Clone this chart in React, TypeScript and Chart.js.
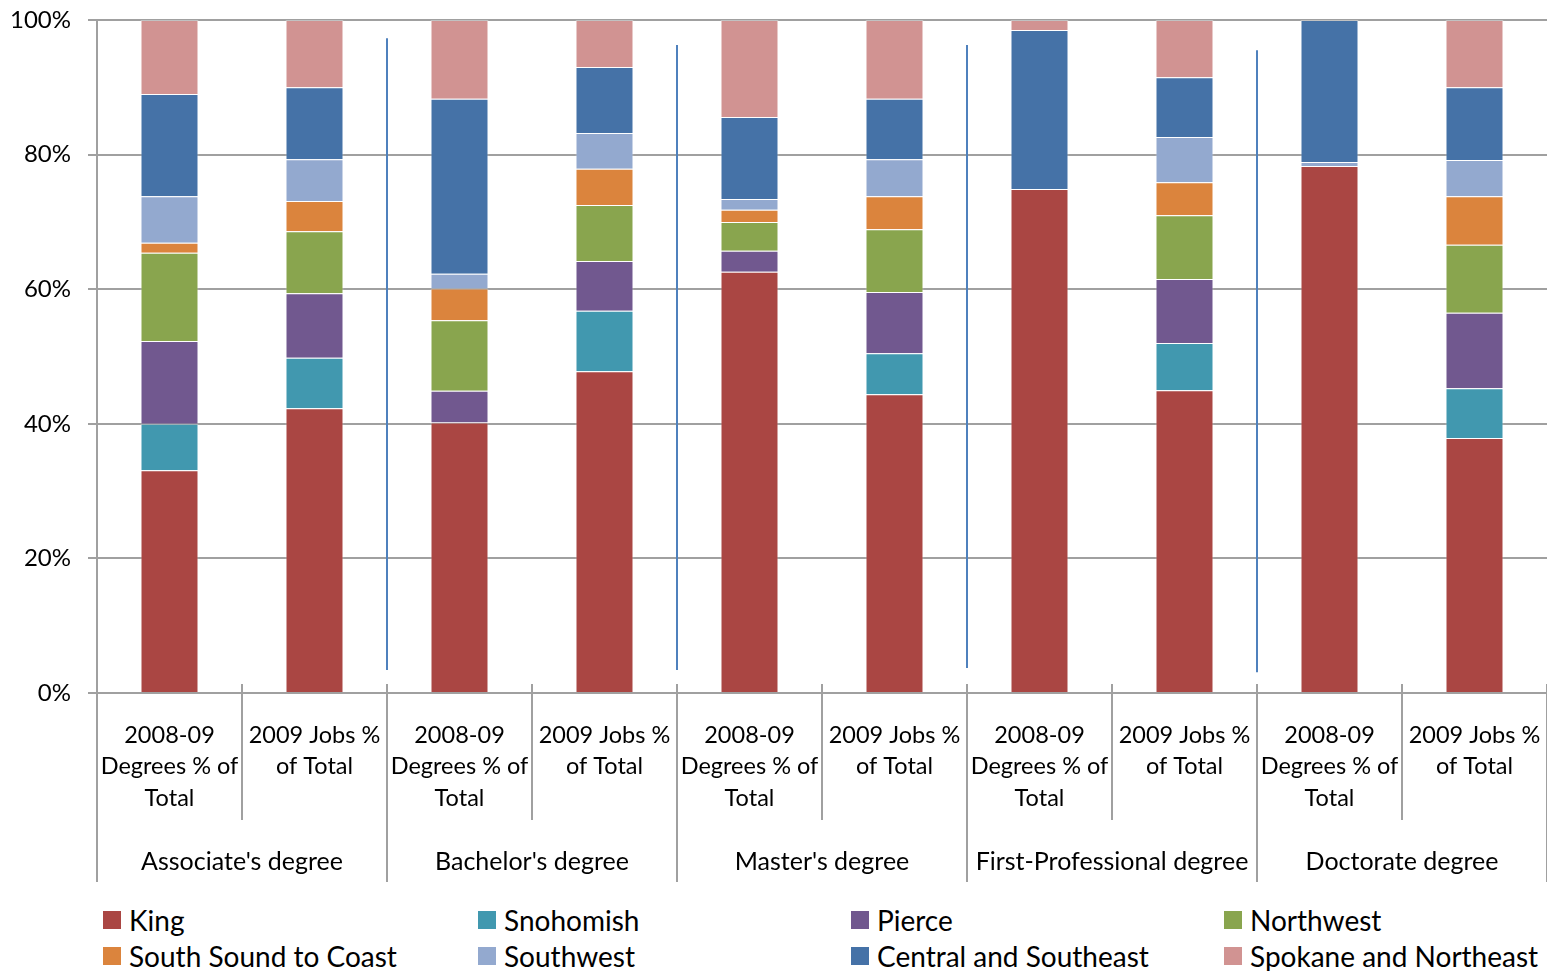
import React, { useEffect, useRef } from 'react';
import { Chart, registerables } from 'chart.js';

Chart.register(...registerables);

// ---- Data ----
const categoryLines: string[][] = [
  ['2008-09', 'Degrees % of', 'Total'],
  ['2009 Jobs %', 'of Total'],
  ['2008-09', 'Degrees % of', 'Total'],
  ['2009 Jobs %', 'of Total'],
  ['2008-09', 'Degrees % of', 'Total'],
  ['2009 Jobs %', 'of Total'],
  ['2008-09', 'Degrees % of', 'Total'],
  ['2009 Jobs %', 'of Total'],
  ['2008-09', 'Degrees % of', 'Total'],
  ['2009 Jobs %', 'of Total'],
];

const groupLabels: string[] = [
  "Associate's degree",
  "Bachelor's degree",
  "Master's degree",
  'First-Professional degree',
  'Doctorate degree',
];

const yTickValues: number[] = [0, 20, 40, 60, 80, 100];

const king: number[] = [33.1, 42.3, 40.2, 47.8, 62.6, 44.4, 74.9, 45.0, 78.3, 37.9];
const snohomish: number[] = [6.9, 7.5, 0, 9.0, 0, 6.1, 0, 7.0, 0, 7.4];
const pierce: number[] = [12.3, 9.6, 4.7, 7.4, 3.1, 9.1, 0, 9.5, 0, 11.2];
const northwest: number[] = [13.1, 9.2, 10.5, 8.3, 4.3, 9.3, 0, 9.5, 0, 10.1];
const southSound: number[] = [1.5, 4.5, 4.7, 5.4, 1.8, 4.9, 0, 4.9, 0, 7.2];
const southwest: number[] = [6.9, 6.2, 2.2, 5.3, 1.6, 5.5, 0, 6.7, 0.6, 5.4];
const central: number[] = [15.2, 10.7, 26.0, 9.8, 12.2, 9.0, 23.6, 8.9, 21.1, 10.8];
const spokane: number[] = [11.0, 10.0, 11.7, 7.0, 14.4, 11.7, 1.5, 8.5, 0, 10.0];

// group divider line extents (in % of the value axis)
const dividerTop: number[] = [97.3, 96.3, 96.3, 95.5];
const dividerBottom: number[] = [3.4, 3.4, 3.7, 3.1];

const seriesNames: string[] = [
  'King',
  'Snohomish',
  'Pierce',
  'Northwest',
  'South Sound to Coast',
  'Southwest',
  'Central and Southeast',
  'Spokane and Northeast',
];
const seriesValues: number[][] = [king, snohomish, pierce, northwest, southSound, southwest, central, spokane];
const seriesColors: string[] = ['#AA4643', '#4198AF', '#71588F', '#89A54E', '#DB843D', '#93A9CF', '#4572A7', '#D19392'];

// legend order (row-major, 4 columns)
const legendOrder: number[] = [0, 1, 2, 3, 4, 5, 6, 7];

const FONT = 'Lato';
const AXIS_COLOR = '#a0a0a0';

const categoryAxisPlugin = {
  id: 'categoryAxisPlugin',
  afterDraw(chart: any) {
    const { ctx, chartArea, scales } = chart;
    const xs = scales.x;
    const ys = scales.y;
    const n = categoryLines.length;
    const w = (chartArea.right - chartArea.left) / n;
    const axisY = chartArea.bottom;
    ctx.save();
    // separators
    ctx.strokeStyle = AXIS_COLOR;
    ctx.lineWidth = 2;
    for (let i = 0; i <= n; i++) {
      const bx = i < n ? xs.getPixelForValue(i) - w / 2 : xs.getPixelForValue(n - 1) + w / 2;
      const isGroup = i % 2 === 0;
      ctx.beginPath();
      ctx.moveTo(bx, axisY - 9);
      ctx.lineTo(bx, axisY + (isGroup ? 189 : 127));
      ctx.stroke();
    }
    // category labels
    ctx.fillStyle = '#000';
    ctx.textAlign = 'center';
    ctx.textBaseline = 'middle';
    ctx.font = `23.5px ${FONT}`;
    categoryLines.forEach((lines, i) => {
      const cx = xs.getPixelForValue(i);
      lines.forEach((t, j) => ctx.fillText(t, cx, axisY + 42 + j * 31.5));
    });
    ctx.font = `25px ${FONT}`;
    groupLabels.forEach((g, k) => {
      const cx = (xs.getPixelForValue(2 * k) + xs.getPixelForValue(2 * k + 1)) / 2;
      ctx.fillText(g, cx, axisY + 169);
    });
    // group dividers inside the plot
    ctx.strokeStyle = '#4F81BD';
    ctx.lineWidth = 2;
    dividerTop.forEach((t, k) => {
      const bx = xs.getPixelForValue(2 * k + 1) + w / 2;
      ctx.beginPath();
      ctx.moveTo(bx, ys.getPixelForValue(t));
      ctx.lineTo(bx, ys.getPixelForValue(dividerBottom[k]));
      ctx.stroke();
    });
    ctx.restore();
  },
};

export default function App() {
  const ref = useRef<HTMLCanvasElement | null>(null);

  useEffect(() => {
    document.body.style.margin = '0';
    Chart.defaults.font.family = FONT;
    const chart = new Chart(ref.current as HTMLCanvasElement, {
      type: 'bar',
      data: {
        labels: categoryLines.map((l) => l.join(' ')),
        datasets: seriesNames.map((name, i) => ({
          label: name,
          data: seriesValues[i],
          backgroundColor: seriesColors[i],
          borderColor: 'rgba(255,255,255,0.35)',
          borderWidth: 1,
          barPercentage: 0.4,
          categoryPercentage: 1,
        })),
      },
      options: {
        animation: false,
        responsive: true,
        maintainAspectRatio: false,
        layout: { padding: { top: 20, right: 0, left: 0, bottom: 0 } },
        plugins: {
          legend: { display: false },
          tooltip: { enabled: false },
        },
        scales: {
          x: {
            stacked: true,
            ticks: { display: false },
            grid: { display: false },
            border: { display: true, color: AXIS_COLOR, width: 2 },
            afterFit: (s: any) => {
              s.height = 202;
            },
          },
          y: {
            stacked: true,
            min: 0,
            max: 100,
            afterBuildTicks: (s: any) => {
              s.ticks = yTickValues.map((v) => ({ value: v }));
            },
            ticks: {
              color: '#000',
              font: { size: 24, family: FONT },
              padding: 17,
              callback: (v: any) => `${v}%`,
            },
            grid: { color: AXIS_COLOR, lineWidth: 2, tickLength: 9 },
            border: { display: true, color: AXIS_COLOR, width: 2 },
            afterFit: (s: any) => {
              s.width = 97;
              s.paddingTop = 0;
              s.paddingBottom = 0;
            },
          },
        },
      },
      plugins: [categoryAxisPlugin],
    });
    return () => chart.destroy();
  }, []);

  const colLeft = [103, 478, 851, 1224];
  const rowCenter = [920, 956];

  return (
    <div style={{ position: 'relative', width: 1547, height: 971, overflow: 'hidden', fontFamily: FONT }}>
      <div style={{ position: 'absolute', left: 0, top: 0, width: 1547, height: 895 }}>
        <canvas ref={ref} />
      </div>
      {legendOrder.map((si, idx) => {
        const col = idx % 4;
        const row = Math.floor(idx / 4);
        return (
          <div
            key={si}
            style={{
              position: 'absolute',
              left: colLeft[col],
              top: rowCenter[row] - 18,
              height: 36,
              display: 'flex',
              alignItems: 'center',
              whiteSpace: 'nowrap',
              fontSize: 28,
              color: '#000',
            }}
          >
            <span style={{ display: 'inline-block', width: 18, height: 18, background: seriesColors[si], marginRight: 8 }} />
            <span>{seriesNames[si]}</span>
          </div>
        );
      })}
    </div>
  );
}
